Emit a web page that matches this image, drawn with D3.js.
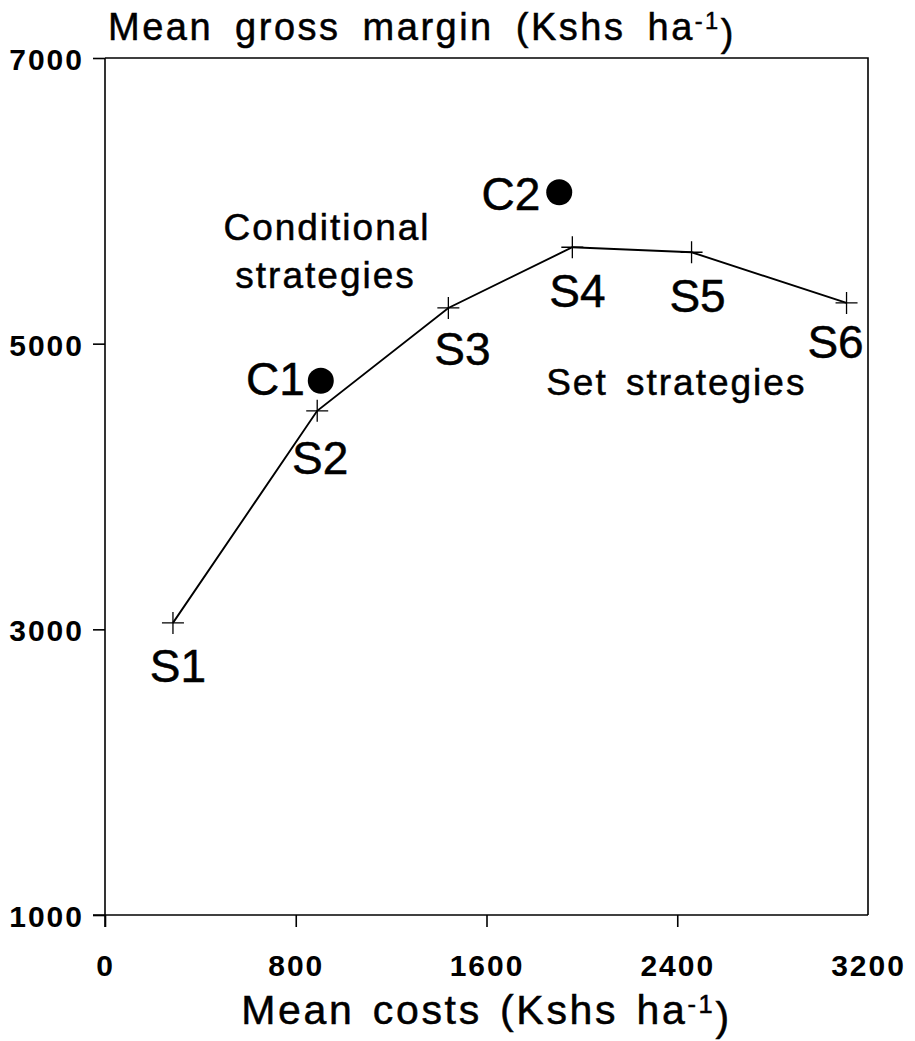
<!DOCTYPE html>
<html>
<head>
<meta charset="utf-8">
<script src="https://cdn.jsdelivr.net/npm/d3@7"></script>
<style>
  html, body { margin: 0; padding: 0; background: #fff; }
  svg { display: block; }
  text { font-family: "Liberation Sans", Arial, Helvetica, sans-serif; fill: #000; }
  .heavy { stroke: #000; stroke-width: 0.5px; }
</style>
</head>
<body>
<svg id="chart" width="915" height="1041"></svg>
<script>
// Set strategies S1..S6: mean costs vs mean gross margin (Kshs/ha)
const setNames = ["S1", "S2", "S3", "S4", "S5", "S6"];
const setCosts = [285, 890, 1440, 1960, 2460, 3110];
const setMargins = [3045, 4530, 5250, 5675, 5640, 5285];

// Conditional strategies C1, C2
const condNames = ["C1", "C2"];
const condCosts = [905, 1905];
const condMargins = [4740, 6060];

// Axis ticks
const xTicks = [0, 800, 1600, 2400, 3200];
const yTicks = [1000, 3000, 5000, 7000];

const svg = d3.select("#chart");
const margin = { left: 105, top: 58, right: 47, bottom: 126 };
const W = 915 - margin.left - margin.right;
const H = 1041 - margin.top - margin.bottom;

const x = d3.scaleLinear().domain([0, 3200]).range([0, W]);
const y = d3.scaleLinear().domain([1000, 7000]).range([H, 0]);

const g = svg.append("g").attr("transform", `translate(${margin.left},${margin.top})`);

// Frame: top and right edges
g.append("path")
  .attr("d", `M0,0H${W}V${H}`)
  .attr("fill", "none").attr("stroke", "#000").attr("stroke-width", 1.6);

// X axis
const xAxis = g.append("g").attr("transform", `translate(0,${H})`)
  .call(d3.axisBottom(x).tickValues(xTicks).tickSize(12).tickPadding(28).tickFormat(d3.format("d")));
xAxis.select(".domain").attr("d", `M-12,0H${W}`).attr("stroke-width", 1.6);
xAxis.selectAll(".tick line").attr("stroke-width", 1.6)
  .filter(d => d === 3200).remove();
xAxis.selectAll(".tick text")
  .attr("font-size", 30).attr("font-weight", "bold").attr("letter-spacing", 2)
  .attr("font-family", "Liberation Sans, Arial, sans-serif").attr("dy", "0.71em");

// Y axis
const yAxis = g.append("g")
  .call(d3.axisLeft(y).tickValues(yTicks).tickSize(12).tickPadding(9).tickFormat(d3.format("d")));
yAxis.select(".domain").attr("d", `M0,0V${H + 12}`).attr("stroke-width", 1.6);
yAxis.selectAll(".tick line").attr("stroke-width", 1.6);
yAxis.selectAll(".tick text")
  .attr("font-size", 30).attr("font-weight", "bold").attr("letter-spacing", 2)
  .attr("font-family", "Liberation Sans, Arial, sans-serif")
  .attr("dy", "0.38em");

// Line through the set strategies
const setPts = setNames.map((n, i) => ({ name: n, cost: setCosts[i], gm: setMargins[i] }));
g.append("path")
  .datum(setPts)
  .attr("fill", "none").attr("stroke", "#000").attr("stroke-width", 1.9)
  .attr("d", d3.line().x(d => x(d.cost)).y(d => y(d.gm)));

// Cross markers
const cross = g.selectAll(".cross").data(setPts).enter().append("g")
  .attr("transform", d => `translate(${x(d.cost)},${y(d.gm)})`);
cross.append("path").attr("d", "M-11,0H11M0,-11V11")
  .attr("stroke", "#000").attr("stroke-width", 1.3);

// Labels for set strategies (offsets relative to each point)
const setLabelOffsets = [[5, 59], [3, 63], [14, 57], [5, 60], [6, 60], [-11, 55]];
g.selectAll(".slabel").data(setPts).enter().append("text")
  .attr("class", "heavy")
  .attr("x", (d, i) => x(d.cost) + setLabelOffsets[i][0])
  .attr("y", (d, i) => y(d.gm) + setLabelOffsets[i][1])
  .attr("text-anchor", "middle")
  .attr("font-size", 46)
  .text(d => d.name);

// Conditional strategy dots
const condPts = condNames.map((n, i) => ({ name: n, cost: condCosts[i], gm: condMargins[i] }));
const condLabelOffsets = [[-16, 14], [-19, 18]];
g.selectAll(".cdot").data(condPts).enter().append("circle")
  .attr("cx", d => x(d.cost)).attr("cy", d => y(d.gm)).attr("r", 13)
  .attr("fill", "#000");
g.selectAll(".clabel").data(condPts).enter().append("text")
  .attr("class", "heavy")
  .attr("x", (d, i) => x(d.cost) + condLabelOffsets[i][0])
  .attr("y", (d, i) => y(d.gm) + condLabelOffsets[i][1])
  .attr("text-anchor", "end")
  .attr("font-size", 46)
  .text(d => d.name);

// Group annotations
const annot = g.append("g").attr("class", "heavy").attr("font-size", 37).attr("letter-spacing", 2);
annot.append("text").attr("x", x(931)).attr("y", y(5726)).attr("text-anchor", "middle").text("Conditional");
annot.append("text").attr("x", x(925)).attr("y", y(5390)).attr("text-anchor", "middle").text("strategies");
annot.append("text").attr("x", x(2396)).attr("y", y(4641)).attr("text-anchor", "middle")
  .attr("word-spacing", 6).text("Set strategies");

// Axis titles
function titleWithUnit(sel, main) {
  sel.append("tspan").text(main + " (Kshs ha");
  sel.append("tspan").attr("dy", "-0.45em").attr("font-size", "0.62em").text("-1");
  sel.append("tspan").attr("dy", "0.45em").text(")");
}
const yTitle = svg.append("text")
  .attr("class", "heavy")
  .attr("x", 108).attr("y", 40)
  .attr("font-size", 38).attr("letter-spacing", 2.5).attr("word-spacing", 9);
titleWithUnit(yTitle, "Mean gross margin");

const xTitle = svg.append("text")
  .attr("class", "heavy")
  .attr("x", margin.left + W / 2).attr("y", 1024)
  .attr("text-anchor", "middle")
  .attr("font-size", 41).attr("letter-spacing", 2.7).attr("word-spacing", 4);
titleWithUnit(xTitle, "Mean costs");
</script>
</body>
</html>
